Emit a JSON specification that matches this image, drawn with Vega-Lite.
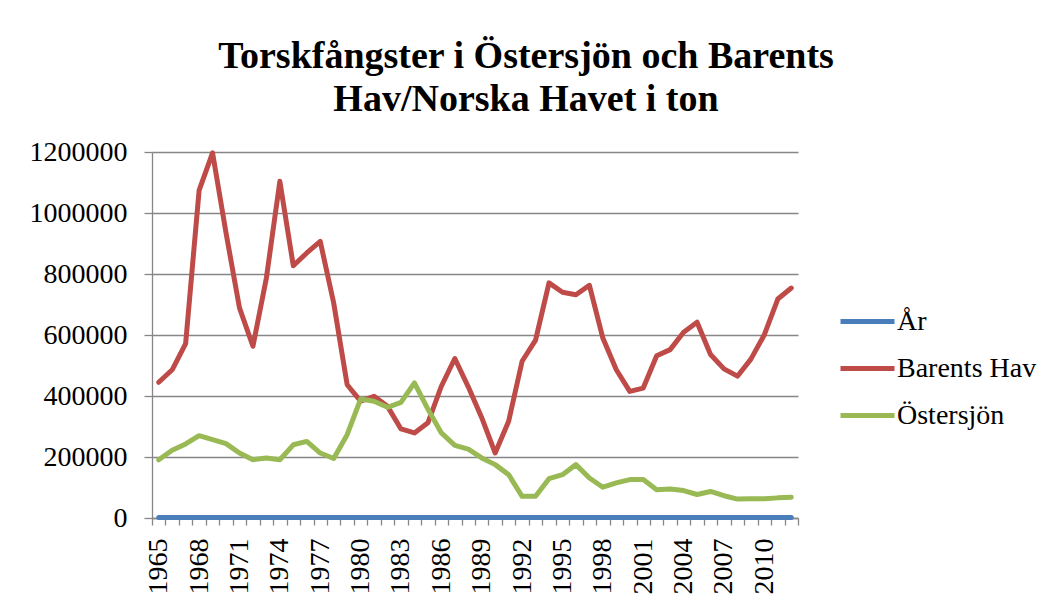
{
  "$schema": "https://vega.github.io/schema/vega-lite/v6.json",
  "autosize": {"type": "none"},
  "padding": {"left": 152, "top": 152, "right": 252, "bottom": 87},
  "width": 646,
  "height": 366,
  "background": "white",
  "title": {
    "text": ["Torskfångster i Östersjön och Barents", "Hav/Norska Havet i ton"],
    "font": "Liberation Serif",
    "fontWeight": "bold",
    "fontSize": 38,
    "lineHeight": 43,
    "color": "black",
    "anchor": "middle",
    "frame": "group",
    "dx": 51,
    "offset": 19
  },
  "data": {
    "values": [
      {"year": 1965, "År": 1965, "Barents Hav": 445000, "Östersjön": 191000},
      {"year": 1966, "År": 1966, "Barents Hav": 486000, "Östersjön": 222000},
      {"year": 1967, "År": 1967, "Barents Hav": 572000, "Östersjön": 243000},
      {"year": 1968, "År": 1968, "Barents Hav": 1074000, "Östersjön": 270000},
      {"year": 1969, "År": 1969, "Barents Hav": 1197000, "Östersjön": 257000},
      {"year": 1970, "År": 1970, "Barents Hav": 935000, "Östersjön": 244000},
      {"year": 1971, "År": 1971, "Barents Hav": 689000, "Östersjön": 213000},
      {"year": 1972, "År": 1972, "Barents Hav": 563000, "Östersjön": 191000},
      {"year": 1973, "År": 1973, "Barents Hav": 787000, "Östersjön": 197000},
      {"year": 1974, "År": 1974, "Barents Hav": 1104000, "Östersjön": 191000},
      {"year": 1975, "År": 1975, "Barents Hav": 827000, "Östersjön": 240000},
      {"year": 1976, "År": 1976, "Barents Hav": 869000, "Östersjön": 251000},
      {"year": 1977, "År": 1977, "Barents Hav": 907000, "Östersjön": 213000},
      {"year": 1978, "År": 1978, "Barents Hav": 705000, "Östersjön": 195000},
      {"year": 1979, "År": 1979, "Barents Hav": 437000, "Östersjön": 273000},
      {"year": 1980, "År": 1980, "Barents Hav": 383000, "Östersjön": 390000},
      {"year": 1981, "År": 1981, "Barents Hav": 399000, "Östersjön": 383000},
      {"year": 1982, "År": 1982, "Barents Hav": 366000, "Östersjön": 363000},
      {"year": 1983, "År": 1983, "Barents Hav": 292000, "Östersjön": 379000},
      {"year": 1984, "År": 1984, "Barents Hav": 279000, "Östersjön": 443000},
      {"year": 1985, "År": 1985, "Barents Hav": 312000, "Östersjön": 357000},
      {"year": 1986, "År": 1986, "Barents Hav": 432000, "Östersjön": 279000},
      {"year": 1987, "År": 1987, "Barents Hav": 523000, "Östersjön": 238000},
      {"year": 1988, "År": 1988, "Barents Hav": 430000, "Östersjön": 226000},
      {"year": 1989, "År": 1989, "Barents Hav": 329000, "Östersjön": 197000},
      {"year": 1990, "År": 1990, "Barents Hav": 213000, "Östersjön": 175000},
      {"year": 1991, "År": 1991, "Barents Hav": 317000, "Östersjön": 142000},
      {"year": 1992, "År": 1992, "Barents Hav": 514000, "Östersjön": 71000},
      {"year": 1993, "År": 1993, "Barents Hav": 583000, "Östersjön": 71000},
      {"year": 1994, "År": 1994, "Barents Hav": 771000, "Östersjön": 129000},
      {"year": 1995, "År": 1995, "Barents Hav": 740000, "Östersjön": 142000},
      {"year": 1996, "År": 1996, "Barents Hav": 732000, "Östersjön": 175000},
      {"year": 1997, "År": 1997, "Barents Hav": 763000, "Östersjön": 131000},
      {"year": 1998, "År": 1998, "Barents Hav": 590000, "Östersjön": 101000},
      {"year": 1999, "År": 1999, "Barents Hav": 486000, "Östersjön": 115000},
      {"year": 2000, "År": 2000, "Barents Hav": 415000, "Östersjön": 126000},
      {"year": 2001, "År": 2001, "Barents Hav": 426000, "Östersjön": 126000},
      {"year": 2002, "År": 2002, "Barents Hav": 532000, "Östersjön": 93000},
      {"year": 2003, "År": 2003, "Barents Hav": 552000, "Östersjön": 95000},
      {"year": 2004, "År": 2004, "Barents Hav": 609000, "Östersjön": 90000},
      {"year": 2005, "År": 2005, "Barents Hav": 642000, "Östersjön": 77000},
      {"year": 2006, "År": 2006, "Barents Hav": 536000, "Östersjön": 87000},
      {"year": 2007, "År": 2007, "Barents Hav": 489000, "Östersjön": 73000},
      {"year": 2008, "År": 2008, "Barents Hav": 465000, "Östersjön": 62000},
      {"year": 2009, "År": 2009, "Barents Hav": 521000, "Östersjön": 63000},
      {"year": 2010, "År": 2010, "Barents Hav": 601000, "Östersjön": 63000},
      {"year": 2011, "År": 2011, "Barents Hav": 718000, "Östersjön": 66000},
      {"year": 2012, "År": 2012, "Barents Hav": 754000, "Östersjön": 68000}
    ]
  },
  "transform": [
    {"fold": ["År", "Barents Hav", "Östersjön"], "as": ["serie", "ton"]}
  ],
  "mark": {"type": "line", "strokeWidth": 5, "strokeCap": "round", "strokeJoin": "round"},
  "encoding": {
    "x": {
      "field": "year",
      "type": "quantitative",
      "scale": {"domain": [1964.5, 2012.5], "nice": false, "zero": false},
      "axis": {
        "title": null,
        "grid": false,
        "format": ".1f",
        "values": [1964.5, 1965, 1965.5, 1966.5, 1967.5, 1968, 1968.5, 1969.5, 1970.5, 1971, 1971.5, 1972.5, 1973.5, 1974, 1974.5, 1975.5, 1976.5, 1977, 1977.5, 1978.5, 1979.5, 1980, 1980.5, 1981.5, 1982.5, 1983, 1983.5, 1984.5, 1985.5, 1986, 1986.5, 1987.5, 1988.5, 1989, 1989.5, 1990.5, 1991.5, 1992, 1992.5, 1993.5, 1994.5, 1995, 1995.5, 1996.5, 1997.5, 1998, 1998.5, 1999.5, 2000.5, 2001, 2001.5, 2002.5, 2003.5, 2004, 2004.5, 2005.5, 2006.5, 2007, 2007.5, 2008.5, 2009.5, 2010, 2010.5, 2011.5, 2012.5],
        "labelExpr": "indexof(datum.label, '.5') >= 0 ? '' : replace(datum.label, '.0', '')",
        "labelOverlap": false,
        "labelAngle": -90,
        "labelFont": "Liberation Serif",
        "labelFontSize": 28,
        "labelPadding": 13,
        "tickSize": 7,
        "tickOpacity": {"condition": {"test": "indexof(format(datum.value, '.1f'), '.5') < 0", "value": 0}, "value": 1}
      }
    },
    "y": {
      "field": "ton",
      "type": "quantitative",
      "scale": {"domain": [0, 1200000], "nice": false},
      "axis": {
        "title": null,
        "values": [0, 200000, 400000, 600000, 800000, 1000000, 1200000],
        "format": "d",
        "grid": true,
        "tickSize": 8,
        "labelPadding": 17
      }
    },
    "color": {
      "field": "serie",
      "type": "nominal",
      "scale": {
        "domain": ["År", "Barents Hav", "Östersjön"],
        "range": ["#4A7EBB", "#BE4B48", "#98B954"]
      },
      "legend": {
        "title": null,
        "orient": "none",
        "legendX": 686,
        "legendY": 140,
        "symbolType": "stroke",
        "symbolSize": 2916,
        "symbolStrokeWidth": 5,
        "labelFont": "Liberation Serif",
        "labelFontSize": 28,
        "labelColor": "black",
        "labelOffset": 0,
        "rowPadding": 3
      }
    }
  },
  "config": {
    "view": {"stroke": null},
    "axis": {
      "labelFont": "Liberation Serif",
      "labelFontSize": 28,
      "labelColor": "black",
      "gridColor": "#868686",
      "gridWidth": 1.3,
      "domainColor": "#868686",
      "domainWidth": 1.3,
      "tickColor": "#868686",
      "tickWidth": 1.3
    }
  }
}
